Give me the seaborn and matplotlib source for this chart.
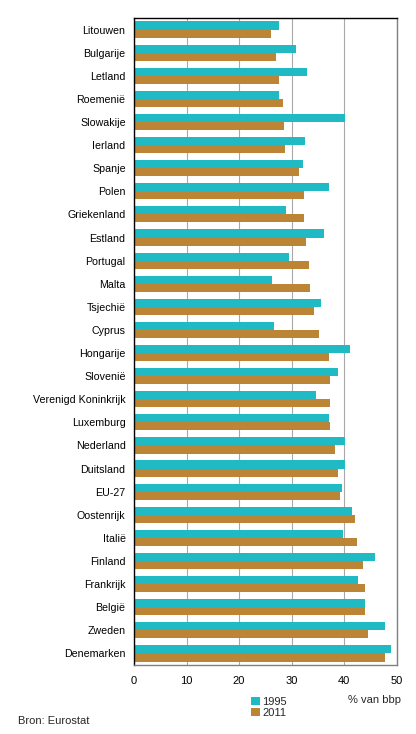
import matplotlib
matplotlib.use("Agg")
import matplotlib.pyplot as plt
import seaborn as sns
import pandas as pd
from matplotlib.patches import Patch

countries = ["Litouwen", "Bulgarije", "Letland", "Roemenië", "Slowakije", "Ierland",
             "Spanje", "Polen", "Griekenland", "Estland", "Portugal", "Malta",
             "Tsjechië", "Cyprus", "Hongarije", "Slovenië", "Verenigd Koninkrijk",
             "Luxemburg", "Nederland", "Duitsland", "EU-27", "Oostenrijk", "Italië",
             "Finland", "Frankrijk", "België", "Zweden", "Denemarken"]
v1995 = [27.5, 30.9, 33.0, 27.5, 40.2, 32.6, 32.1, 37.0, 29.0, 36.2, 29.4, 26.2,
         35.5, 26.7, 41.0, 38.9, 34.7, 37.0, 40.1, 40.1, 39.5, 41.4, 39.7,
         45.9, 42.7, 43.9, 47.8, 48.8]
v2011 = [26.0, 27.1, 27.5, 28.3, 28.5, 28.8, 31.3, 32.3, 32.3, 32.8, 33.2, 33.4,
         34.3, 35.1, 37.0, 37.2, 37.2, 37.2, 38.3, 38.9, 39.1, 42.1, 42.5,
         43.5, 43.9, 44.0, 44.6, 47.7]
years = ["1995", "2011"]
xticks = [0, 10, 20, 30, 40, 50]

df = pd.DataFrame({
    "land": countries * 2,
    "waarde": v1995 + v2011,
    "jaar": [years[0]] * len(countries) + [years[1]] * len(countries),
})

colors = {"1995": "#1fbac4", "2011": "#bc8535"}

sns.set_theme(style="white")
plt.rcParams["font.family"] = ["Liberation Sans", "DejaVu Sans"]

fig = plt.figure(figsize=(4.16, 7.34), dpi=100)
ax = fig.add_axes([0.322, 0.094, 0.632, 0.8815])
sns.barplot(data=df, y="land", x="waarde", hue="jaar", order=countries,
            hue_order=years, palette=colors, width=0.7, orient="h",
            saturation=1, legend=False, linewidth=0, edgecolor="none", ax=ax)

ax.set_xlim(0, 50)
ax.set_ylim(len(countries) - 0.5, -0.5)
ax.set_xticks(xticks)
ax.set_xticklabels([str(t) for t in xticks], fontsize=8, color="black")
ax.tick_params(axis="y", labelsize=7.7, colors="black", length=0, pad=6)
ax.tick_params(axis="x", length=0, pad=8)
ax.set_xlabel("")
ax.set_ylabel("")
ax.xaxis.grid(True, color="#a8a8a8", linewidth=0.8)
ax.set_axisbelow(True)
for s in ["left", "top"]:
    ax.spines[s].set_color("black")
    ax.spines[s].set_linewidth(1.0)
for s in ["right", "bottom"]:
    ax.spines[s].set_color("#808080")
    ax.spines[s].set_linewidth(1.0)

fig.text(0.965, 0.047, "% van bbp", ha="right", va="center", fontsize=8)
handles = [Patch(facecolor=colors[y], edgecolor="none", label=y) for y in years]
fig.legend(handles=handles, loc="upper left", bbox_to_anchor=(0.603, 0.051),
           frameon=False, fontsize=8, handlelength=0.8, handleheight=0.8,
           handletextpad=0.2, labelspacing=0.1, borderpad=0, borderaxespad=0)
fig.text(0.043, 0.018, "Bron: Eurostat", ha="left", va="center", fontsize=8)

fig.savefig("out.png", dpi=100, facecolor="white")
